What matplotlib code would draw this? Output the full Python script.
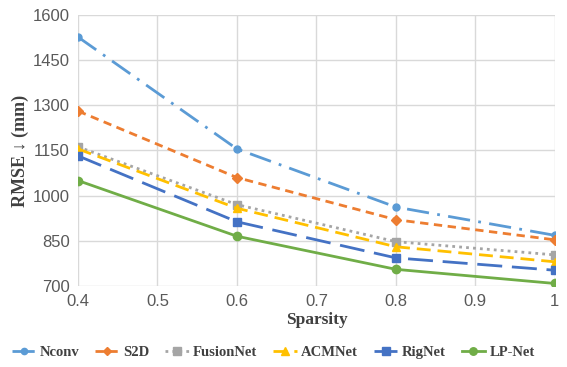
import matplotlib
matplotlib.use("Agg")
import matplotlib.pyplot as plt

# sparsity levels and RMSE (mm) per method
sparsity = [0.4, 0.6, 0.8, 1.0]
nconv = [1527, 1155, 962, 868]
s2d = [1281, 1060, 920, 853]
fusionnet = [1162, 970, 847, 803]
acmnet = [1155, 958, 830, 780]
rignet = [1132, 913, 793, 752]
lpnet = [1050, 865, 755, 708]

names = ["Nconv", "S2D", "FusionNet", "ACMNet", "RigNet", "LP-Net"]
series = [nconv, s2d, fusionnet, acmnet, rignet, lpnet]
colors = ["#5B9BD5", "#ED7D31", "#A5A5A5", "#FFC000", "#4472C4", "#70AD47"]
markers = ["o", "D", "s", "^", "s", "o"]
styles = [(0, (8, 3, 1, 3)), (0, (3, 2)), (0, (1, 1.5)), (0, (5, 2.5)),
          (0, (9, 3.5)), "-"]
msizes = [5, 5, 6, 6, 6, 6]

SERIF = ["Liberation Serif", "DejaVu Serif"]

fig = plt.figure(figsize=(5.67, 3.67), dpi=100)
ax = fig.add_axes([0.1376, 0.221, 0.841, 0.738])

for vals, name, c, m, ls, ms in zip(series, names, colors, markers, styles, msizes):
    ax.plot(sparsity, vals, color=c, marker=m, linestyle=ls, linewidth=2,
            markersize=ms, label=name)

ax.set_xlim(0.4, 1.0)
ax.set_ylim(700, 1600)
ax.set_xticks([0.4, 0.5, 0.6, 0.7, 0.8, 0.9, 1.0])
ax.set_xticklabels(["0.4", "0.5", "0.6", "0.7", "0.8", "0.9", "1"])
ax.set_yticks(range(700, 1601, 150))
ax.grid(True, color="#D9D9D9", linewidth=1)
ax.set_axisbelow(True)
for sp in ax.spines.values():
    sp.set_visible(False)
ax.tick_params(length=0, labelsize=12, labelcolor="#595959", pad=6)
for lab in ax.get_xticklabels() + ax.get_yticklabels():
    lab.set_family("Liberation Sans")

ax.set_xlabel("Sparsity", family=SERIF, fontweight="bold", fontsize=12.5,
              color="#404040", labelpad=2)
ax.set_ylabel("RMSE \u2193 (mm)", family=SERIF, fontweight="bold", fontsize=13,
              color="#404040", labelpad=3)

leg = fig.legend(loc="center", bbox_to_anchor=(0.482, 0.04), ncol=6,
                 frameon=False, prop={"family": SERIF, "weight": "bold", "size": 10.5},
                 handlelength=1.6, columnspacing=1.1, handletextpad=0.3,
                 markerscale=0.9)
for t in leg.get_texts():
    t.set_color("#404040")

fig.savefig("out.png", dpi=100)
